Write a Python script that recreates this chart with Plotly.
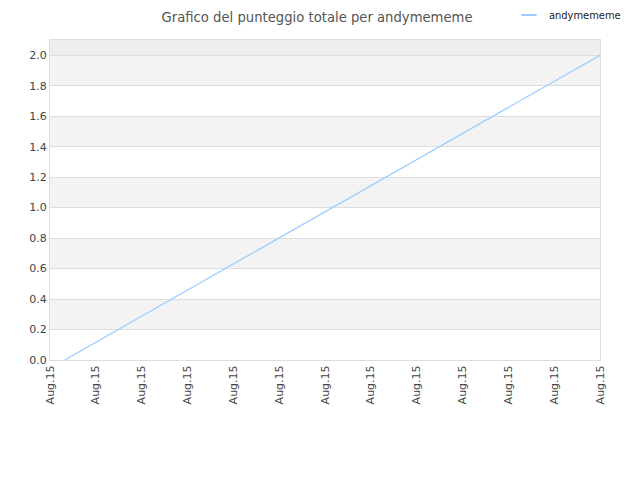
import plotly.graph_objects as go

# punteggio totale nel tempo (asse x in unità di tick)
player = "andymememe"
x_vals = [0.32, 12]
score = [0, 2]

tick_pos = list(range(13))
tick_text = ["Aug.15"] * 13

y_ticks = [0, 0.2, 0.4, 0.6, 0.8, 1.0, 1.2, 1.4, 1.6, 1.8, 2.0]

fig = go.Figure()
fig.add_trace(go.Scatter(
    x=x_vals, y=score, mode="lines", name=player, showlegend=False,
    line=dict(color="#99ccff", width=1.2),
))
# voce di legenda con trattino corto
fig.add_trace(go.Scatter(
    x=[None], y=[None], mode="markers", name=player,
    marker=dict(symbol="line-ew-open", size=11, color="#99ccff",
                line=dict(color="#99ccff", width=2)),
))

# bande alternate sullo sfondo
shapes = []
for i in range(len(y_ticks) - 1):
    if i % 2 == 1:
        shapes.append(dict(type="rect", xref="paper", yref="y", x0=0, x1=1,
                           y0=y_ticks[i], y1=y_ticks[i + 1],
                           fillcolor="#f3f3f3", line_width=0, layer="below"))
shapes.append(dict(type="rect", xref="paper", yref="y", x0=0, x1=1,
                   y0=2.0, y1=2.1, fillcolor="#eeeeee", line_width=0, layer="below"))

# la pagina ha un margine di 8px: dimensioni e margini compensati
fig.update_layout(
    width=632, height=472,
    margin=dict(l=42, r=40, t=32, b=120, autoexpand=False),
    paper_bgcolor="white", plot_bgcolor="white",
    shapes=shapes,
    title=dict(text="Grafico del punteggio totale per andymememe",
               x=0.489, xanchor="center", y=0.981, yanchor="middle",
               font=dict(family="DejaVu Sans", size=13.2, color="#555555")),
    showlegend=True,
    legend=dict(x=0.8345, xanchor="left", y=1.078, yanchor="middle",
                bgcolor="rgba(0,0,0,0)",
                font=dict(family="DejaVu Sans Condensed", size=11, color="#222222")),
    font=dict(family="DejaVu Sans", size=11, color="#444444"),
)
fig.update_xaxes(range=[0, 12], tickvals=tick_pos, ticktext=tick_text,
                 tickangle=-90, showgrid=False, zeroline=False, automargin=False,
                 showline=True, linecolor="#dddddd", mirror=True,
                 ticks="", tickfont=dict(size=11, color="#444444"))
fig.update_yaxes(range=[0, 2.1], tickvals=y_ticks, tickformat=".1f",
                 showgrid=True, gridcolor="#dddddd", zeroline=False, automargin=False,
                 showline=True, linecolor="#dddddd", mirror=True,
                 ticks="", tickfont=dict(size=11, color="#444444"))

fig.write_html("out.html")
